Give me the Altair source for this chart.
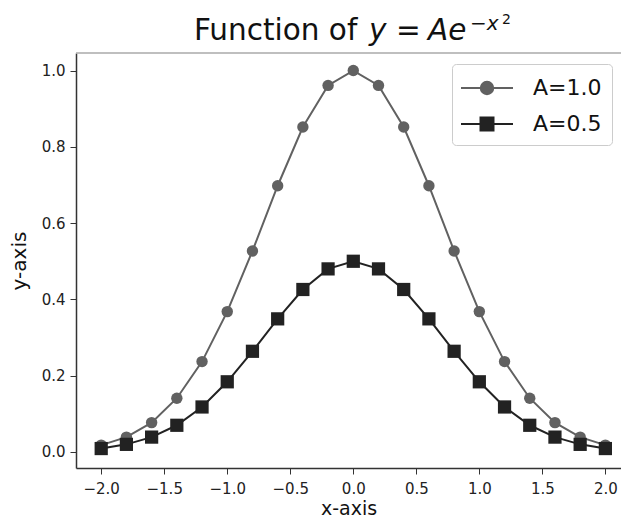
import altair as alt
import pandas as pd

xs = [-2.0, -1.8, -1.6, -1.4, -1.2, -1.0, -0.8, -0.6, -0.4, -0.2, 0.0,
      0.2, 0.4, 0.6, 0.8, 1.0, 1.2, 1.4, 1.6, 1.8, 2.0]
y_a1 = [0.018, 0.039, 0.077, 0.141, 0.237, 0.368, 0.527, 0.698, 0.852, 0.961, 1.0,
        0.961, 0.852, 0.698, 0.527, 0.368, 0.237, 0.141, 0.077, 0.039, 0.018]
y_a05 = [0.009, 0.020, 0.039, 0.070, 0.118, 0.184, 0.264, 0.349, 0.426, 0.480, 0.5,
         0.480, 0.426, 0.349, 0.264, 0.184, 0.118, 0.070, 0.039, 0.020, 0.009]
series = ["A=1.0", "A=0.5"]
colors = ["#616161", "#222222"]
x_ticks = [-2.0, -1.5, -1.0, -0.5, 0.0, 0.5, 1.0, 1.5, 2.0]
y_ticks = [0.0, 0.2, 0.4, 0.6, 0.8, 1.0]
title_parts = ["Function of", "y", "=", "Ae", "−x", "2"]

rows = []
for x, v in zip(xs, y_a1):
    rows.append({"x": x, "y": v, "series": series[0]})
for x, v in zip(xs, y_a05):
    rows.append({"x": x, "y": v, "series": series[1]})
df = pd.DataFrame(rows)

FONT = "DejaVu Sans"
W, H = 545, 415
xscale = alt.Scale(domain=[-2.2, 2.124], nice=False, zero=False)
yscale = alt.Scale(domain=[-0.042, 1.046], nice=False, zero=False)
xenc = alt.X("x:Q", scale=xscale, axis=alt.Axis(values=x_ticks, format=".1f", title="x-axis"))
yenc = alt.Y("y:Q", scale=yscale, axis=alt.Axis(values=y_ticks, format=".1f", title="y-axis"))
cscale = alt.Scale(domain=series, range=colors)

base = alt.Chart(df)
layers = []
shapes = {"A=1.0": ("circle", 130), "A=0.5": ("square", 175)}
for s in series:
    sub = base.transform_filter(alt.datum.series == s)
    layers.append(sub.mark_line(strokeWidth=2).encode(
        x=xenc, y=yenc, color=alt.Color("series:N", scale=cscale, legend=None)))
    layers.append(sub.mark_point(filled=True, opacity=1, shape=shapes[s][0], size=shapes[s][1]).encode(
        x=xenc, y=yenc, color=alt.Color("series:N", scale=cscale, legend=None)))

# legend symbols: a line with a marker on it (path spans beyond the unit box)
circle_path = "M-2,0L2,0M0.48,0A0.48,0.48,0,1,1,-0.48,0A0.48,0.48,0,1,1,0.48,0Z"
square_path = "M-2,0L2,0M-0.5,-0.5L0.5,-0.5L0.5,0.5L-0.5,0.5Z"
leg = alt.Legend(title=None, orient="none", legendX=376, legendY=11,
                 labelFontSize=22, labelFont=FONT, labelColor="#111",
                 symbolSize=676, symbolStrokeWidth=2, rowPadding=11,
                 padding=10, strokeColor="#cccccc", cornerRadius=4, fillColor="white",
                 symbolOffset=11, labelOffset=32)
legend_layer = base.transform_filter("false").mark_point(filled=True, opacity=1, strokeWidth=2).encode(
    x=xenc, y=yenc,
    fill=alt.Fill("series:N", scale=alt.Scale(domain=series, range=colors), legend=leg),
    stroke=alt.Stroke("series:N", scale=alt.Scale(domain=series, range=colors), legend=leg),
    shape=alt.Shape("series:N", scale=alt.Scale(domain=series, range=[circle_path, square_path]), legend=leg),
    size=alt.value(676),
)

one = alt.Data(values=[{"k": 1}])
top_spine = alt.Chart(one).mark_rule(color="#aaaaaa", strokeWidth=1.5).encode(
    x=alt.value(0), x2=alt.value(W), y=alt.value(0))

title_specs = [
    (title_parts[0], 118, -13, 29.5, "normal"),
    (title_parts[1], 293, -13, 29.5, "italic"),
    (title_parts[2], 320, -13, 29.5, "normal"),
    (title_parts[3], 352, -13, 29.5, "italic"),
    (title_parts[4], 394, -23, 20, "italic"),
    (title_parts[5], 426, -29, 14, "normal"),
]
title_layers = [
    alt.Chart(one).mark_text(text=t, font=FONT, fontSize=fs, fontStyle=st, align="left",
                             baseline="alphabetic", color="#111").encode(
        x=alt.value(px), y=alt.value(py))
    for t, px, py, fs, st in title_specs
]

chart = alt.layer(*layers, legend_layer, top_spine, *title_layers).resolve_scale(
    shape="independent", fill="independent", stroke="independent"
).properties(
    width=W, height=H,
    autosize=alt.AutoSizeParams(type="none"),
    padding={"left": 76, "top": 53, "right": 0, "bottom": 50},
).configure_view(stroke=None).configure_axis(
    labelFont=FONT, labelFontSize=15, labelColor="#222", titleFont=FONT, titleFontSize=20,
    titleFontWeight="normal", titleColor="#111", domainColor="#333", domainWidth=1.5,
    tickColor="#333", tickSize=6, grid=False
).configure_axisY(titlePadding=12, labelPadding=5).configure_axisX(
    titlePadding=3, labelPadding=7, titleFontSize=19)

chart.save("out.html", embed_options={"renderer": "svg", "actions": False})
